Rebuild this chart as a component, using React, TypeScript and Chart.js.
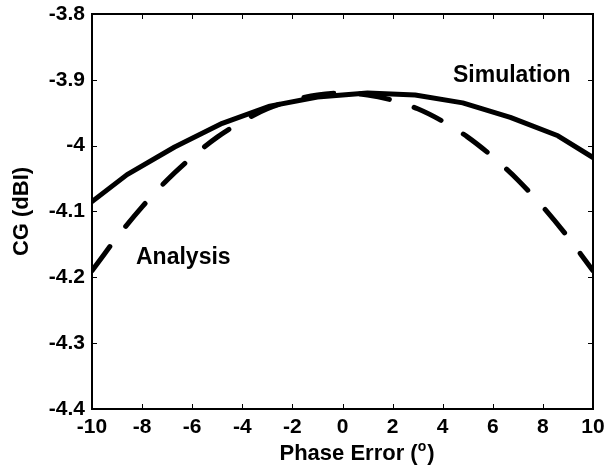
import React, { useEffect, useRef } from "react";
import { Chart, registerables } from "chart.js";

Chart.register(...registerables);

// Simulation (solid)
const simX = [-10, -8.6, -6.7, -4.8, -2.9, -1.0, 1.0, 2.9, 4.8, 6.7, 8.6, 10];
const simY = [-4.085, -4.044, -4.002, -3.966, -3.94, -3.926, -3.92, -3.923, -3.935, -3.957, -3.985, -4.018];

// Analysis (dashed)
const anaX = [-10, -9, -8, -7, -6, -5, -4, -3, -2, -1, 0, 1, 2, 3, 4, 5, 6, 7, 8, 9, 10];
const anaY = [-4.19, -4.139, -4.093, -4.052, -4.017, -3.987, -3.963, -3.944, -3.931, -3.923, -3.92, -3.923, -3.931, -3.944, -3.963, -3.987, -4.017, -4.052, -4.093, -4.139, -4.19];

const xTicks = [-10, -8, -6, -4, -2, 0, 2, 4, 6, 8, 10];
const yTicks = [-4.4, -4.3, -4.2, -4.1, -4.0, -3.9, -3.8];

const xTitle = "Phase Error (";
const xTitleSup = "o";
const xTitleEnd = ")";
const yTitle = "CG (dBI)";
const labelSim = "Simulation";
const labelAna = "Analysis";

const FONT = "'Liberation Sans', Arial, Helvetica, sans-serif";

const framePlugin = {
  id: "frame",
  afterDraw(chart: any) {
    const { ctx, chartArea } = chart;
    const { left, right, top, bottom } = chartArea;
    const xs = chart.scales.x;
    const ys = chart.scales.y;
    ctx.save();
    ctx.strokeStyle = "#000";
    ctx.lineWidth = 2;
    ctx.strokeRect(left, top, right - left, bottom - top);
    ctx.lineWidth = 1;
    const tl = 5;
    ctx.beginPath();
    for (const v of xTicks) {
      const px = Math.round(xs.getPixelForValue(v)) + 0.5;
      ctx.moveTo(px, bottom);
      ctx.lineTo(px, bottom - tl);
      ctx.moveTo(px, top);
      ctx.lineTo(px, top + tl);
    }
    for (const v of yTicks) {
      const py = Math.round(ys.getPixelForValue(v)) + 0.5;
      ctx.moveTo(left, py);
      ctx.lineTo(left + tl, py);
      ctx.moveTo(right, py);
      ctx.lineTo(right - tl, py);
    }
    ctx.stroke();

    ctx.fillStyle = "#000";
    // annotations
    ctx.font = `bold 23px ${FONT}`;
    ctx.textAlign = "left";
    ctx.textBaseline = "alphabetic";
    ctx.fillText(labelSim, 453, 82);
    ctx.fillText(labelAna, 136, 264);

    // x title with superscript
    const bigFont = `bold 22px ${FONT}`;
    const supFont = `bold 14px ${FONT}`;
    ctx.font = bigFont;
    const w1 = ctx.measureText(xTitle).width;
    const w3 = ctx.measureText(xTitleEnd).width;
    ctx.font = supFont;
    const w2 = ctx.measureText(xTitleSup).width;
    const total = w1 + w2 + w3 + 1;
    const x0 = 357 - total / 2;
    const base = 460;
    ctx.font = bigFont;
    ctx.fillText(xTitle, x0, base);
    ctx.font = supFont;
    ctx.fillText(xTitleSup, x0 + w1, base - 9);
    ctx.font = bigFont;
    ctx.fillText(xTitleEnd, x0 + w1 + w2 + 1, base);

    // y title
    ctx.save();
    ctx.translate(22, (top + bottom) / 2);
    ctx.rotate(-Math.PI / 2);
    ctx.font = bigFont;
    ctx.textAlign = "center";
    ctx.textBaseline = "middle";
    ctx.fillText(yTitle, 0, 0);
    ctx.restore();
    ctx.restore();
  },
};

export default function App() {
  const ref = useRef<HTMLCanvasElement | null>(null);
  useEffect(() => {
    if (!ref.current) return;
    const chart = new Chart(ref.current, {
      type: "line",
      data: {
        datasets: [
          {
            label: labelAna,
            data: anaX.map((x, i) => ({ x, y: anaY[i] })),
            borderColor: "#000",
            borderWidth: 5,
            borderDash: [30, 26],
            borderCapStyle: "round",
            pointRadius: 0,
            tension: 0.3,
            fill: false,
          },
          {
            label: labelSim,
            data: simX.map((x, i) => ({ x, y: simY[i] })),
            borderColor: "#000",
            borderWidth: 5,
            borderCapStyle: "round",
            borderJoinStyle: "round",
            pointRadius: 0,
            tension: 0,
            fill: false,
          },
        ],
      },
      options: {
        animation: false,
        responsive: false,
        maintainAspectRatio: false,
        layout: { padding: { top: 14, right: 14, left: 0, bottom: 0 } },
        plugins: {
          legend: { display: false },
          tooltip: { enabled: false },
        },
        scales: {
          x: {
            type: "linear",
            min: -10,
            max: 10,
            grid: { display: false, drawTicks: false },
            border: { display: false },
            afterBuildTicks: (s: any) => {
              s.ticks = xTicks.map((v) => ({ value: v }));
            },
            afterFit: (s: any) => {
              s.height = 63;
              s.paddingLeft = 0;
              s.paddingRight = 0;
            },
            ticks: {
              color: "#000",
              padding: 6,
              maxRotation: 0,
              autoSkip: false,
              font: { family: FONT, size: 21, weight: "bold" },
              callback: (v: any) => String(Math.round(Number(v))),
            },
          },
          y: {
            type: "linear",
            min: -4.4,
            max: -3.8,
            grid: { display: false, drawTicks: false },
            border: { display: false },
            afterBuildTicks: (s: any) => {
              s.ticks = yTicks.map((v) => ({ value: v }));
            },
            afterFit: (s: any) => {
              s.width = 92;
              s.paddingTop = 0;
              s.paddingBottom = 0;
            },
            ticks: {
              color: "#000",
              padding: 7,
              autoSkip: false,
              font: { family: FONT, size: 21, weight: "bold" },
              callback: (v: any) => String(Math.round(Number(v) * 10) / 10),
            },
          },
        },
      },
      plugins: [framePlugin],
    } as any);
    return () => chart.destroy();
  }, []);
  return (
    <div style={{ position: "fixed", left: 0, top: 0, width: 607, height: 472, background: "#fff" }}>
      <canvas ref={ref} width={607} height={472} style={{ width: 607, height: 472, display: "block" }} />
    </div>
  );
}
